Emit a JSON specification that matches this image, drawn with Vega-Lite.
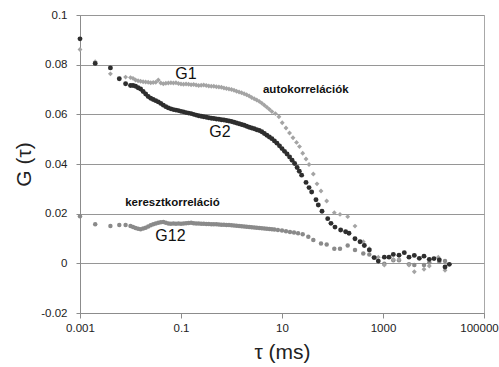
{
"$schema":"https://vega.github.io/schema/vega-lite/v6.json",
"width":404,"height":298,"autosize":"none",
"padding":{"left":80,"top":15,"right":15,"bottom":54},
"config":{"font":"Liberation Sans","view":{"stroke":"#a8a8a8","strokeWidth":1}},
"data":{"values":[
{"s":"G12","t":0.001,"g":0.019},{"s":"G12","t":0.002,"g":0.0157},{"s":"G12","t":0.004,"g":0.015},{"s":"G12","t":0.006,"g":0.0154},{"s":"G12","t":0.008,"g":0.0154},
{"s":"G12","t":0.01,"g":0.015},{"s":"G12","t":0.01122,"g":0.0146},{"s":"G12","t":0.01259,"g":0.0142},{"s":"G12","t":0.01413,"g":0.0139},{"s":"G12","t":0.01585,"g":0.0137},{"s":"G12","t":0.01778,"g":0.014},{"s":"G12","t":0.01995,"g":0.0143},{"s":"G12","t":0.02239,"g":0.0148},{"s":"G12","t":0.02512,"g":0.0153},{"s":"G12","t":0.02818,"g":0.0157},
{"s":"G12","t":0.03162,"g":0.016},{"s":"G12","t":0.03548,"g":0.0163},{"s":"G12","t":0.03981,"g":0.0165},{"s":"G12","t":0.04467,"g":0.0166},{"s":"G12","t":0.05012,"g":0.0163},{"s":"G12","t":0.05623,"g":0.016},{"s":"G12","t":0.0631,"g":0.0159},{"s":"G12","t":0.07079,"g":0.016},{"s":"G12","t":0.07943,"g":0.0159},{"s":"G12","t":0.08913,"g":0.016},
{"s":"G12","t":0.1,"g":0.0159},{"s":"G12","t":0.1122,"g":0.016},{"s":"G12","t":0.1259,"g":0.0161},{"s":"G12","t":0.1413,"g":0.0162},{"s":"G12","t":0.1585,"g":0.0163},{"s":"G12","t":0.1778,"g":0.0161},{"s":"G12","t":0.1995,"g":0.016},{"s":"G12","t":0.2239,"g":0.016},{"s":"G12","t":0.2512,"g":0.0159},{"s":"G12","t":0.2818,"g":0.0159},
{"s":"G12","t":0.3162,"g":0.0158},{"s":"G12","t":0.3548,"g":0.0158},{"s":"G12","t":0.3981,"g":0.0157},{"s":"G12","t":0.4467,"g":0.0157},{"s":"G12","t":0.5012,"g":0.0157},{"s":"G12","t":0.5623,"g":0.0156},{"s":"G12","t":0.631,"g":0.0155},{"s":"G12","t":0.7079,"g":0.0155},{"s":"G12","t":0.7943,"g":0.0154},{"s":"G12","t":0.8913,"g":0.0154},
{"s":"G12","t":1,"g":0.0153},{"s":"G12","t":1.122,"g":0.0152},{"s":"G12","t":1.259,"g":0.0151},{"s":"G12","t":1.413,"g":0.015},{"s":"G12","t":1.585,"g":0.0149},{"s":"G12","t":1.778,"g":0.0148},{"s":"G12","t":1.995,"g":0.0147},{"s":"G12","t":2.239,"g":0.0146},{"s":"G12","t":2.512,"g":0.0145},{"s":"G12","t":2.818,"g":0.0144},
{"s":"G12","t":3.162,"g":0.0143},{"s":"G12","t":3.548,"g":0.0142},{"s":"G12","t":3.981,"g":0.0141},{"s":"G12","t":4.467,"g":0.014},{"s":"G12","t":5.012,"g":0.0139},{"s":"G12","t":5.623,"g":0.0138},{"s":"G12","t":6.31,"g":0.0137},{"s":"G12","t":7.079,"g":0.0136},
{"s":"G12","t":8.3,"g":0.0134},{"s":"G12","t":10,"g":0.0132},{"s":"G12","t":12,"g":0.0129},{"s":"G12","t":14.4,"g":0.0126},{"s":"G12","t":17.3,"g":0.0124},{"s":"G12","t":20.8,"g":0.0121},{"s":"G12","t":25.7,"g":0.0117},{"s":"G12","t":33.2,"g":0.0107},{"s":"G12","t":41.7,"g":0.0094},{"s":"G12","t":59.2,"g":0.008},{"s":"G12","t":76.7,"g":0.0076},{"s":"G12","t":108.6,"g":0.0059},{"s":"G12","t":140.8,"g":0.0059},{"s":"G12","t":200,"g":0.0072},{"s":"G12","t":279,"g":0.0054},{"s":"G12","t":407,"g":0.004},{"s":"G12","t":536,"g":0.0036},{"s":"G12","t":695,"g":0.0023},{"s":"G12","t":1062,"g":-0.0002},{"s":"G12","t":1600,"g":0.0012},{"s":"G12","t":2075,"g":0.0012},{"s":"G12","t":3273,"g":-0.0004},{"s":"G12","t":4169,"g":-0.0007},{"s":"G12","t":6486,"g":-0.0007},{"s":"G12","t":8260,"g":0.0003},{"s":"G12","t":13030,"g":0.0006},{"s":"G12","t":16900,"g":0.0009},
{"s":"G1","t":0.001,"g":0.0861},{"s":"G1","t":0.002,"g":0.0812},{"s":"G1","t":0.004,"g":0.0763},{"s":"G1","t":0.008,"g":0.075},
{"s":"G1","t":0.01,"g":0.0748},{"s":"G1","t":0.01122,"g":0.0745},{"s":"G1","t":0.01259,"g":0.0738},{"s":"G1","t":0.01413,"g":0.0735},{"s":"G1","t":0.01585,"g":0.0733},{"s":"G1","t":0.01778,"g":0.0731},{"s":"G1","t":0.01995,"g":0.073},{"s":"G1","t":0.02239,"g":0.0729},{"s":"G1","t":0.02512,"g":0.0727},{"s":"G1","t":0.02818,"g":0.0728},
{"s":"G1","t":0.03162,"g":0.0729},{"s":"G1","t":0.03548,"g":0.0738},{"s":"G1","t":0.03981,"g":0.0726},{"s":"G1","t":0.04467,"g":0.0723},{"s":"G1","t":0.05012,"g":0.0725},{"s":"G1","t":0.05623,"g":0.0726},{"s":"G1","t":0.0631,"g":0.0727},{"s":"G1","t":0.07079,"g":0.0726},{"s":"G1","t":0.07943,"g":0.0727},{"s":"G1","t":0.08913,"g":0.0724},
{"s":"G1","t":0.1,"g":0.0722},{"s":"G1","t":0.1122,"g":0.0721},{"s":"G1","t":0.1259,"g":0.0722},{"s":"G1","t":0.1413,"g":0.0721},{"s":"G1","t":0.1585,"g":0.0719},{"s":"G1","t":0.1778,"g":0.072},{"s":"G1","t":0.1995,"g":0.0718},{"s":"G1","t":0.2239,"g":0.0716},{"s":"G1","t":0.2512,"g":0.0717},{"s":"G1","t":0.2818,"g":0.0718},
{"s":"G1","t":0.3162,"g":0.0716},{"s":"G1","t":0.3548,"g":0.0714},{"s":"G1","t":0.3981,"g":0.0713},{"s":"G1","t":0.4467,"g":0.0713},{"s":"G1","t":0.5012,"g":0.0711},{"s":"G1","t":0.5623,"g":0.071},{"s":"G1","t":0.631,"g":0.0709},{"s":"G1","t":0.7079,"g":0.0706},{"s":"G1","t":0.7943,"g":0.0704},{"s":"G1","t":0.8913,"g":0.0702},
{"s":"G1","t":1,"g":0.07},{"s":"G1","t":1.122,"g":0.0697},{"s":"G1","t":1.259,"g":0.0693},{"s":"G1","t":1.413,"g":0.069},{"s":"G1","t":1.585,"g":0.0687},{"s":"G1","t":1.778,"g":0.0683},{"s":"G1","t":1.995,"g":0.0679},{"s":"G1","t":2.239,"g":0.0674},{"s":"G1","t":2.512,"g":0.0668},{"s":"G1","t":2.818,"g":0.0663},
{"s":"G1","t":3.162,"g":0.0658},{"s":"G1","t":3.548,"g":0.0652},{"s":"G1","t":3.981,"g":0.0645},{"s":"G1","t":4.467,"g":0.0637},{"s":"G1","t":5.012,"g":0.0629},{"s":"G1","t":5.623,"g":0.062},{"s":"G1","t":6.31,"g":0.0611},
{"s":"G1","t":7.4,"g":0.0603},{"s":"G1","t":8.68,"g":0.059},{"s":"G1","t":10.1,"g":0.0566},{"s":"G1","t":12,"g":0.0545},{"s":"G1","t":14.1,"g":0.0525},{"s":"G1","t":16.5,"g":0.0506},{"s":"G1","t":19.4,"g":0.0487},{"s":"G1","t":22.2,"g":0.047},{"s":"G1","t":25.7,"g":0.0443},{"s":"G1","t":29.9,"g":0.042},{"s":"G1","t":34.3,"g":0.0398},{"s":"G1","t":41.7,"g":0.036},{"s":"G1","t":49.3,"g":0.032},{"s":"G1","t":59.2,"g":0.0291},{"s":"G1","t":76.7,"g":0.0251},{"s":"G1","t":108.6,"g":0.0204},{"s":"G1","t":140.8,"g":0.0197},{"s":"G1","t":200,"g":0.0188},{"s":"G1","t":279,"g":0.015},{"s":"G1","t":407,"g":0.0087},{"s":"G1","t":536,"g":0.0059},{"s":"G1","t":807,"g":0.0025},{"s":"G1","t":1062,"g":-0.0007},{"s":"G1","t":1600,"g":0.0016},{"s":"G1","t":2075,"g":0.0016},{"s":"G1","t":3273,"g":-0.0007},{"s":"G1","t":4169,"g":-0.0034},{"s":"G1","t":6486,"g":-0.0024},{"s":"G1","t":8260,"g":-0.0011},{"s":"G1","t":12450,"g":0.0025},{"s":"G1","t":16900,"g":-0.0028},
{"s":"G2","t":0.001,"g":0.0904},{"s":"G2","t":0.002,"g":0.0805},{"s":"G2","t":0.004,"g":0.0787},{"s":"G2","t":0.006,"g":0.0743},{"s":"G2","t":0.008,"g":0.0723},
{"s":"G2","t":0.01,"g":0.0716},{"s":"G2","t":0.01122,"g":0.0716},{"s":"G2","t":0.01259,"g":0.0713},{"s":"G2","t":0.01413,"g":0.0707},{"s":"G2","t":0.01585,"g":0.0702},{"s":"G2","t":0.01778,"g":0.0692},{"s":"G2","t":0.01995,"g":0.0682},{"s":"G2","t":0.02239,"g":0.0672},{"s":"G2","t":0.02512,"g":0.0665},{"s":"G2","t":0.02818,"g":0.066},
{"s":"G2","t":0.03162,"g":0.0655},{"s":"G2","t":0.03548,"g":0.065},{"s":"G2","t":0.03981,"g":0.0644},{"s":"G2","t":0.04467,"g":0.0637},{"s":"G2","t":0.05012,"g":0.0631},{"s":"G2","t":0.05623,"g":0.0626},{"s":"G2","t":0.0631,"g":0.0622},{"s":"G2","t":0.07079,"g":0.0619},{"s":"G2","t":0.07943,"g":0.0617},{"s":"G2","t":0.08913,"g":0.0615},
{"s":"G2","t":0.1,"g":0.0612},{"s":"G2","t":0.1122,"g":0.061},{"s":"G2","t":0.1259,"g":0.0607},{"s":"G2","t":0.1413,"g":0.0605},{"s":"G2","t":0.1585,"g":0.0603},{"s":"G2","t":0.1778,"g":0.06},{"s":"G2","t":0.1995,"g":0.0597},{"s":"G2","t":0.2239,"g":0.0594},{"s":"G2","t":0.2512,"g":0.0592},{"s":"G2","t":0.2818,"g":0.059},
{"s":"G2","t":0.3162,"g":0.0588},{"s":"G2","t":0.3548,"g":0.0586},{"s":"G2","t":0.3981,"g":0.0584},{"s":"G2","t":0.4467,"g":0.0583},{"s":"G2","t":0.5012,"g":0.0581},{"s":"G2","t":0.5623,"g":0.058},{"s":"G2","t":0.631,"g":0.0578},{"s":"G2","t":0.7079,"g":0.0577},{"s":"G2","t":0.7943,"g":0.0575},{"s":"G2","t":0.8913,"g":0.0573},
{"s":"G2","t":1,"g":0.0571},{"s":"G2","t":1.122,"g":0.0568},{"s":"G2","t":1.259,"g":0.0565},{"s":"G2","t":1.413,"g":0.0562},{"s":"G2","t":1.585,"g":0.0559},{"s":"G2","t":1.778,"g":0.0556},{"s":"G2","t":1.995,"g":0.0552},{"s":"G2","t":2.239,"g":0.0548},{"s":"G2","t":2.512,"g":0.0545},{"s":"G2","t":2.818,"g":0.0542},
{"s":"G2","t":3.162,"g":0.0538},{"s":"G2","t":3.548,"g":0.0535},{"s":"G2","t":3.981,"g":0.053},{"s":"G2","t":4.467,"g":0.0523},{"s":"G2","t":5.012,"g":0.0516},{"s":"G2","t":5.623,"g":0.0509},{"s":"G2","t":6.31,"g":0.0502},{"s":"G2","t":7.079,"g":0.0493},{"s":"G2","t":7.943,"g":0.0484},{"s":"G2","t":8.913,"g":0.0473},
{"s":"G2","t":10,"g":0.0462},{"s":"G2","t":11.22,"g":0.0451},{"s":"G2","t":12.59,"g":0.044},{"s":"G2","t":14.13,"g":0.0428},{"s":"G2","t":15.85,"g":0.0415},{"s":"G2","t":17.78,"g":0.0402},{"s":"G2","t":19.95,"g":0.0386},
{"s":"G2","t":22,"g":0.0371},{"s":"G2","t":24.5,"g":0.0355},{"s":"G2","t":29.9,"g":0.0326},{"s":"G2","t":34.3,"g":0.0305},{"s":"G2","t":38.7,"g":0.0287},{"s":"G2","t":47.1,"g":0.0256},{"s":"G2","t":52.3,"g":0.0235},{"s":"G2","t":61.9,"g":0.021},{"s":"G2","t":80.4,"g":0.018},{"s":"G2","t":93.3,"g":0.0161},{"s":"G2","t":112,"g":0.0146},{"s":"G2","t":145,"g":0.0134},{"s":"G2","t":182,"g":0.0127},{"s":"G2","t":212,"g":0.0121},{"s":"G2","t":279,"g":0.0099},{"s":"G2","t":351,"g":0.0087},{"s":"G2","t":427,"g":0.0072},{"s":"G2","t":536,"g":0.0054},{"s":"G2","t":664,"g":0.0023},{"s":"G2","t":807,"g":0.0009},{"s":"G2","t":1062,"g":0.0025},{"s":"G2","t":1315,"g":0.0025},{"s":"G2","t":1600,"g":0.0036},{"s":"G2","t":2075,"g":0.0033},{"s":"G2","t":2642,"g":0.0043},{"s":"G2","t":3273,"g":0.0025},{"s":"G2","t":4169,"g":0.0032},{"s":"G2","t":5236,"g":0.002},{"s":"G2","t":6486,"g":0.0029},{"s":"G2","t":8260,"g":0.0016},{"s":"G2","t":10230,"g":0.0019},{"s":"G2","t":13030,"g":0.0014},{"s":"G2","t":16900,"g":-0.0015},{"s":"G2","t":20560,"g":-0.0004},
{"s":"lab","t":0.1256,"g":0.0764,"txt":"G1"},{"s":"lab","t":0.591,"g":0.053,"txt":"G2"},{"s":"lab","t":0.0619,"g":0.011,"txt":"G12"},
{"s":"note","t":29.6,"g":0.0697,"txt":"autokorrelációk"},{"s":"note","t":0.0679,"g":0.0241,"txt":"keresztkorreláció"}
]},
"encoding":{
"x":{"field":"t","type":"quantitative","scale":{"type":"log","domain":[0.001,100000],"nice":false},
 "axis":{"values":[0.001,0.1,10,1000,100000],"labelExpr":"format(datum.value, '~f')","grid":false,"tickSize":5,"tickColor":"#8c8c8c","domainColor":"#8c8c8c","labelFontSize":11.5,"labelColor":"#222222","labelPadding":4,"labelFlush":false,"labelOverlap":false,"labelOffset":{"condition":{"test":"datum.value == 100000","value":-5},"value":0},"title":"τ (ms)","titleFontSize":21,"titleFontWeight":"normal","titleColor":"#222222","titlePadding":8}},
"y":{"field":"g","type":"quantitative","scale":{"domain":[-0.02,0.1],"nice":false,"zero":false},
 "axis":{"values":[-0.02,0,0.02,0.04,0.06,0.08,0.1],"labelExpr":"replace(format(datum.value, '.2~f'), '\u2212', '-')","grid":true,"gridColor":"#969696","tickSize":4,"tickColor":"#8c8c8c","domainColor":"#8c8c8c","labelFontSize":11.5,"labelColor":"#222222","labelPadding":9,"title":"G (τ)","titleFontSize":21,"titleFontWeight":"normal","titleColor":"#222222","titlePadding":6}}
},
"layer":[
{"transform":[{"filter":"datum.s == 'G12'"}],"mark":{"type":"point","shape":"circle","filled":true,"size":20,"color":"#8a8a8a","opacity":1}},
{"transform":[{"filter":"datum.s == 'G1'"}],"mark":{"type":"point","shape":"diamond","filled":true,"size":24,"color":"#a4a4a4","opacity":1}},
{"transform":[{"filter":"datum.s == 'G2'"}],"mark":{"type":"point","shape":"circle","filled":true,"size":24,"color":"#2e2e2e","opacity":1}},
{"transform":[{"filter":"datum.s == 'lab'"}],"mark":{"type":"text","fontSize":16,"color":"#111111"},"encoding":{"text":{"field":"txt"}}},
{"transform":[{"filter":"datum.s == 'note'"}],"mark":{"type":"text","fontSize":11.5,"fontWeight":"bold","color":"#111111"},"encoding":{"text":{"field":"txt"}}}
]
}
